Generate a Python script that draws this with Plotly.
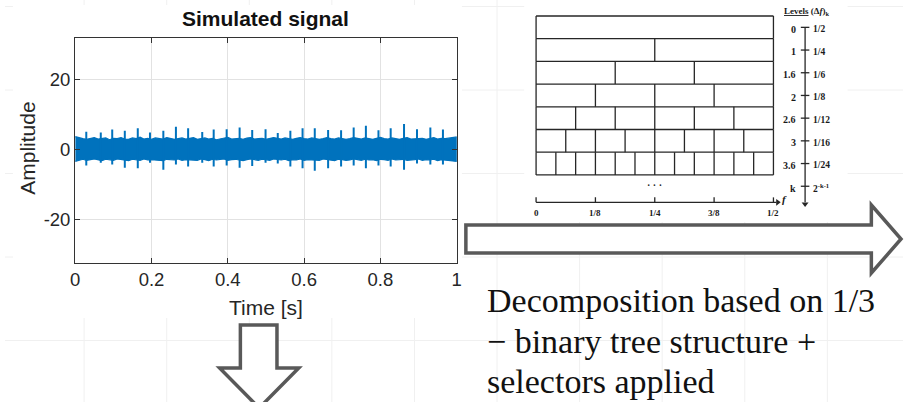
import plotly.graph_objects as go

W, H = 908, 402
def px(x): return x / W
def py(y): return 1 - y / H

# ---------------- Simulated signal data ----------------
t_env = [i / 100 for i in range(101)]
sig_upper = [3.6, 3.2, 3.0, 2.8, 3.1, 3.3, 2.9, 3.0, 3.2, 2.7,
             3.1, 3.0, 3.3, 2.9, 2.8, 3.2, 3.0, 3.4, 2.9, 3.1,
             2.8, 3.2, 3.0, 2.9, 3.3, 3.1, 2.8, 3.0, 3.2, 2.9,
             3.1, 3.3, 2.8, 3.0, 3.2, 2.9, 3.1, 2.7, 3.0, 3.2,
             3.4, 2.9, 3.0, 3.1, 2.8, 3.2, 3.3, 2.9, 3.0, 3.1,
             2.8, 3.0, 3.3, 3.1, 2.9, 3.2, 3.0, 2.8, 3.1, 3.3,
             3.0, 2.9, 3.2, 3.1, 2.8, 3.0, 3.3, 3.0, 2.9, 3.2,
             3.1, 2.8, 3.0, 3.3, 3.1, 2.9, 3.2, 3.0, 2.8, 3.1,
             3.4, 3.0, 2.9, 3.2, 3.0, 2.8, 3.1, 3.3, 2.9, 3.0,
             3.2, 3.1, 2.8, 3.0, 3.3, 2.9, 3.1, 3.0, 3.2, 3.4, 3.5]
sig_lower = [-3.5, -3.1, -2.9, -3.2, -3.0, -2.8, -3.1, -3.3, -2.9, -3.0,
             -3.2, -2.8, -3.0, -3.1, -3.3, -2.9, -3.0, -3.2, -2.8, -3.1,
             -3.0, -2.9, -3.2, -3.3, -2.9, -3.0, -3.1, -2.8, -3.2, -3.0,
             -2.9, -3.1, -3.2, -2.8, -3.0, -3.3, -2.9, -3.1, -3.0, -2.8,
             -3.2, -3.0, -2.9, -3.1, -3.3, -3.0, -2.8, -3.1, -3.2, -2.9,
             -3.0, -3.2, -2.8, -3.0, -3.1, -2.9, -3.3, -3.0, -3.1, -2.8,
             -3.2, -3.0, -2.9, -3.1, -3.2, -2.8, -3.0, -3.1, -3.3, -2.9,
             -3.0, -3.2, -3.1, -2.8, -3.0, -3.2, -2.9, -3.1, -3.0, -3.3,
             -2.9, -3.0, -3.2, -2.8, -3.1, -3.0, -2.9, -3.2, -3.1, -3.0,
             -2.8, -3.2, -3.0, -3.1, -2.9, -3.3, -3.0, -3.1, -3.2, -3.4, -3.5]
spike_t = [0.029, 0.067, 0.097, 0.130, 0.164, 0.196, 0.231, 0.264, 0.296, 0.333,
           0.363, 0.397, 0.431, 0.464, 0.499, 0.531, 0.564, 0.596, 0.628, 0.663,
           0.697, 0.730, 0.762, 0.795, 0.827, 0.862, 0.896, 0.931, 0.964]
spike_hi = [5.0, 4.8, 5.6, 5.3, 6.0, 4.8, 5.3, 6.4, 6.0, 4.9,
            5.6, 5.7, 6.2, 5.5, 5.7, 4.6, 5.3, 6.0, 6.0, 5.5,
            5.4, 6.2, 6.7, 5.4, 6.0, 7.2, 5.7, 6.2, 5.6]
spike_lo = [-4.7, -3.9, -4.4, -5.3, -5.5, -3.9, -5.9, -4.4, -5.0, -3.9,
            -5.0, -4.7, -5.3, -4.8, -3.9, -4.1, -5.0, -5.5, -6.2, -5.5,
            -5.0, -4.7, -5.5, -4.7, -5.0, -5.9, -4.1, -4.4, -4.4]

x_ticks = [0, 0.2, 0.4, 0.6, 0.8, 1]
x_ticklabels = ["0", "0.2", "0.4", "0.6", "0.8", "1"]
y_ticks = [-20, 0, 20]
y_ticklabels = ["-20", "0", "20"]

# ---------------- 1/3-binary tree diagram data ----------------
levels = ["0", "1", "1.6", "2", "2.6", "3", "3.6"]
delta_den = [2, 4, 6, 8, 12, 16, 24]
delta_labels = ["1/2", "1/4", "1/6", "1/8", "1/12", "1/16", "1/24"]
level_k_label = "k"
delta_k_label = "2<sup>-k-1</sup>"
freq_ticks = [0, 0.125, 0.25, 0.375, 0.5]
freq_labels = ["0", "1/8", "1/4", "3/8", "1/2"]
F_MAX = 0.5

BLUE = "#0072BD"
DARK = "#262626"
fig = go.Figure()

# signal band
fig.add_trace(go.Scatter(
    x=t_env + t_env[::-1], y=sig_upper + sig_lower[::-1],
    fill="toself", fillcolor=BLUE, mode="lines",
    line=dict(color=BLUE, width=1.2), hoverinfo="skip",
    xaxis="x", yaxis="y"))
sx, sy = [], []
for t, hi, lo in zip(spike_t, spike_hi, spike_lo):
    sx += [t, t, None]
    sy += [lo, hi, None]
fig.add_trace(go.Scatter(x=sx, y=sy, mode="lines",
                         line=dict(color=BLUE, width=2),
                         hoverinfo="skip", xaxis="x", yaxis="y"))

# diagram cells
gx, gy = [], []
n_rows = len(levels)
for r in range(n_rows + 1):
    gx += [0, F_MAX, None]
    gy += [r - 0.5, r - 0.5, None]
for r, d in enumerate(delta_den):
    n = d // 2
    for k in range(n + 1):
        xv = k * F_MAX / n
        gx += [xv, xv, None]
        gy += [r - 0.5, r + 0.5, None]
# frequency axis line and ticks
FREQ_Y = 7.71
gx += [0, F_MAX + 0.006, None]
gy += [FREQ_Y, FREQ_Y, None]
for f in freq_ticks:
    gx += [f, f, None]
    gy += [FREQ_Y, FREQ_Y - 0.22, None]
# levels axis
LX = (809 - 537) / 480
gx += [LX, LX, None]
gy += [0.03, 7.7, None]
for r in range(n_rows + 1):
    gx += [LX - 0.009, LX + 0.009, None]
    gy += [r, r, None]
fig.add_trace(go.Scatter(x=gx, y=gy, mode="lines",
                         line=dict(color=DARK, width=1.3),
                         hoverinfo="skip", xaxis="x2", yaxis="y2"))
# arrow heads of the diagram axes
fig.add_trace(go.Scatter(x=[F_MAX + 0.009, LX], y=[FREQ_Y, 7.78], mode="markers",
                         marker=dict(symbol=["triangle-right", "triangle-down"], size=6,
                                     color=DARK, line=dict(width=0)),
                         hoverinfo="skip", xaxis="x2", yaxis="y2", cliponaxis=False))

annotations = []
SERIF = "Liberation Serif, Times New Roman, serif"
SANS = "Liberation Sans, Arial, Helvetica, sans-serif"

for r, (lv, dl) in enumerate(zip(levels + [level_k_label], delta_labels + [delta_k_label])):
    annotations.append(dict(x=0.552, y=r + 0.08, xref="x2", yref="y2", text=f"<b>{lv}</b>",
                            showarrow=False, xanchor="right", yanchor="middle",
                            font=dict(family=SERIF, size=10, color="#1a1a1a")))
    annotations.append(dict(x=0.580, y=r + 0.08, xref="x2", yref="y2", text=f"<b>{dl}</b>",
                            showarrow=False, xanchor="left", yanchor="middle",
                            font=dict(family=SERIF, size=9.5, color="#1a1a1a")))
for f, fl in zip(freq_ticks, freq_labels):
    annotations.append(dict(x=f, y=8.18, xref="x2", yref="y2", text=f"<b>{fl}</b>",
                            showarrow=False, xanchor="center", yanchor="middle",
                            font=dict(family=SERIF, size=9, color="#1a1a1a")))
annotations.append(dict(x=F_MAX / 2, y=6.95, xref="x2", yref="y2", text="<b>· · ·</b>",
                        showarrow=False, xanchor="center", yanchor="middle",
                        font=dict(family=SERIF, size=10, color="#1a1a1a")))
annotations.append(dict(x=0.523, y=7.55, xref="x2", yref="y2", text="<b><i>f</i></b>",
                        showarrow=False, xanchor="center", yanchor="middle",
                        font=dict(family=SERIF, size=11, color="#1a1a1a")))
annotations.append(dict(x=0.569, y=-0.68, xref="x2", yref="y2",
                        text="<b><u>Levels</u> (Δ<i>f</i>)<sub>k</sub></b>",
                        showarrow=False, xanchor="center", yanchor="middle",
                        font=dict(family=SERIF, size=9, color="#1a1a1a")))

# signal plot labels
annotations.append(dict(x=px(263.8), y=py(19), xref="paper", yref="paper",
                        text="<b>Simulated signal</b>", showarrow=False,
                        xanchor="center", yanchor="middle",
                        font=dict(family=SANS, size=21, color="#111")))
annotations.append(dict(x=px(263.8), y=py(307), xref="paper", yref="paper",
                        text="Time [s]", showarrow=False,
                        xanchor="center", yanchor="middle",
                        font=dict(family=SANS, size=21, color="#262626")))
annotations.append(dict(x=px(22), y=py(148), xref="paper", yref="paper",
                        text="Amplitude", showarrow=False, textangle=-90,
                        xanchor="center", yanchor="middle",
                        font=dict(family=SANS, size=21, color="#262626")))

# slide text
text_lines = ["Decomposition based on 1/3", "− binary tree structure +", "selectors applied"]
for line, yc in zip(text_lines, [300, 341, 381]):
    annotations.append(dict(x=px(485), y=py(yc), xref="paper", yref="paper",
                            text=line, showarrow=False, xanchor="left", yanchor="middle",
                            font=dict(family=SERIF, size=34, color="#111")))

shapes = []
for xv in [80, 163.5, 247, 330.5, 414, 497.5, 581, 664.5, 748, 831.5]:
    shapes.append(dict(type="line", xref="paper", yref="paper", x0=px(xv), x1=px(xv),
                       y0=0, y1=1, line=dict(color="#f0f0f0", width=1), layer="below"))
for yv in [6.5, 90, 173.5, 257, 340.5]:
    shapes.append(dict(type="line", xref="paper", yref="paper", x0=0, x1=1,
                       y0=py(yv), y1=py(yv), line=dict(color="#f0f0f0", width=1), layer="below"))
for (x0, y0, x1, y1) in [(8, 5, 462, 318), (525, 0, 852, 222)]:
    shapes.append(dict(type="rect", xref="paper", yref="paper", x0=px(x0), x1=px(x1),
                       y0=py(y1), y1=py(y0), fillcolor="white", line=dict(width=0), layer="below"))

def poly(points):
    return "M " + " L ".join(f"{px(a):.5f},{py(b):.5f}" for a, b in points) + " Z"

right_arrow = [(466, 225), (876, 225), (876, 205), (906, 239), (876, 273), (876, 253), (466, 253)]
down_arrow = [(238, 325), (275, 325), (275, 368), (297, 368), (257, 408), (217, 368), (238, 368)]
for pts in [right_arrow, down_arrow]:
    shapes.append(dict(type="path", xref="paper", yref="paper", path=poly(pts),
                       fillcolor="white", line=dict(color="#595959", width=3.5), layer="above"))

AX_COLOR = "#333333"
fig.update_layout(
    width=W, height=H, autosize=False,
    margin=dict(l=0, r=0, t=0, b=0),
    paper_bgcolor="white", plot_bgcolor="white", showlegend=False,
    xaxis=dict(domain=[px(71), px(456.7)], range=[0, 1], tickvals=x_ticks, ticktext=x_ticklabels,
               showgrid=True, gridcolor="#e2e2e2", gridwidth=1, zeroline=False,
               showline=True, linecolor=AX_COLOR, linewidth=1.2, mirror="ticks",
               ticks="inside", ticklen=5, tickcolor=AX_COLOR,
               tickfont=dict(family=SANS, size=18.5, color="#262626"), anchor="y"),
    yaxis=dict(domain=[py(262.7), py(37.7)], range=[-32.5, 31.9], tickvals=y_ticks, ticktext=y_ticklabels,
               showgrid=True, gridcolor="#e2e2e2", gridwidth=1, zeroline=False,
               showline=True, linecolor=AX_COLOR, linewidth=1.2, mirror="ticks",
               ticks="inside", ticklen=5, tickcolor=AX_COLOR,
               tickfont=dict(family=SANS, size=18.5, color="#262626"), anchor="x"),
    xaxis2=dict(domain=[px(520), 1], range=[(520 - 537) / 480, (908 - 537) / 480],
                visible=False, anchor="y2"),
    yaxis2=dict(domain=[py(225), 1], range=[(225 - 27.35) / 22.7, (0 - 27.35) / 22.7],
                visible=False, anchor="x2"),
    annotations=annotations, shapes=shapes,
)

fig.write_html("out.html")
